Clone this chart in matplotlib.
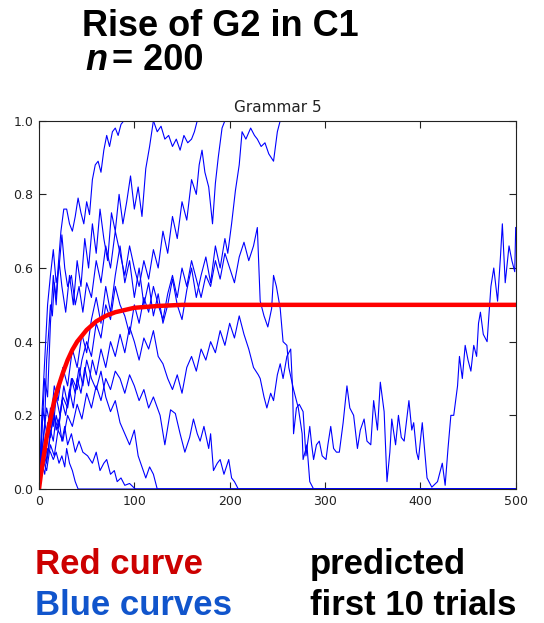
import matplotlib
matplotlib.use("Agg")
import matplotlib.pyplot as plt

# predicted curve
red_x = [0, 2, 5, 8, 12, 16, 20, 25, 30, 35, 40, 50, 60, 70, 80, 100, 125, 150, 200, 300, 400, 500]
red_y = [0, 0.04, 0.09, 0.14, 0.19, 0.24, 0.275, 0.315, 0.35, 0.378, 0.40, 0.432, 0.455, 0.47, 0.48,
         0.492, 0.497, 0.5, 0.5, 0.5, 0.5, 0.5]

# first 10 trials (approximate readings)
tA_x = [0, 2, 4, 6, 8, 10, 12, 14, 16, 18, 20, 23, 26, 29, 32, 35, 38, 41, 44, 47, 50, 53, 56, 59, 62,
        65, 68, 71, 74, 77, 80, 83, 86, 89, 92, 120, 124, 128, 132, 136, 140, 144, 148, 152, 156, 160,
        163, 166]
tA_y = [0, 0.1, 0.22, 0.18, 0.35, 0.42, 0.5, 0.47, 0.56, 0.52, 0.6, 0.7, 0.76, 0.76, 0.72, 0.70, 0.74,
        0.79, 0.75, 0.72, 0.78, 0.745, 0.84, 0.88, 0.89, 0.86, 0.92, 0.96, 0.93, 0.97, 0.98, 0.96, 0.99,
        1.0, 1.0, 1.0, 0.97, 0.985, 0.95, 0.96, 0.93, 0.95, 0.92, 0.96, 0.94, 0.95, 0.97, 1.0]

tB_x = [0, 3, 6, 9, 12, 15, 18, 21, 24, 27, 30, 34, 38, 42, 46, 50, 55, 60, 65, 70, 75, 80, 85, 90, 95,
        100, 105, 110, 115, 120, 125, 130, 135, 140, 145, 150, 155, 160, 165, 168, 171, 174, 178, 182,
        185, 188, 192, 195]
tB_y = [0, 0.2, 0.35, 0.5, 0.58, 0.65, 0.56, 0.6, 0.69, 0.6, 0.55, 0.58, 0.5, 0.55, 0.48, 0.56, 0.52,
        0.62, 0.56, 0.66, 0.6, 0.7, 0.64, 0.58, 0.66, 0.6, 0.55, 0.62, 0.57, 0.65, 0.6, 0.7, 0.64, 0.74,
        0.68, 0.78, 0.73, 0.84, 0.8, 0.88, 0.92, 0.86, 0.82, 0.72, 0.83, 0.9, 0.98, 1.0]

tC_x = [0, 4, 8, 12, 16, 20, 25, 30, 35, 40, 45, 50, 55, 60, 65, 70, 75, 80, 85, 90, 95, 100, 105, 110,
        115, 120, 125, 130, 135, 140, 145, 150, 155, 160, 165, 170, 175, 180, 185, 190, 195, 198, 202,
        206, 210, 213, 217, 222, 226, 229, 233, 237, 241, 246, 250, 253]
tC_y = [0, 0.12, 0.22, 0.17, 0.28, 0.24, 0.33, 0.28, 0.38, 0.33, 0.42, 0.37, 0.46, 0.52, 0.45, 0.55,
        0.48, 0.58, 0.66, 0.56, 0.62, 0.52, 0.6, 0.5, 0.56, 0.47, 0.53, 0.45, 0.5, 0.57, 0.5, 0.46, 0.54,
        0.6, 0.52, 0.58, 0.63, 0.56, 0.66, 0.6, 0.68, 0.64, 0.72, 0.81, 0.88, 0.97, 0.95, 0.98, 0.96,
        0.95, 0.93, 0.94, 0.91, 0.89, 0.97, 1.0]

tD_x = [0, 4, 8, 12, 16, 20, 25, 30, 35, 40, 45, 50, 55, 60, 65, 70, 75, 80, 85, 90, 95, 100, 105, 110,
        115, 120, 125, 130, 135, 140, 145, 150, 155, 160, 165, 170, 175, 180, 185, 190, 195, 200, 205,
        210, 215, 220, 225, 229, 232, 236, 240, 244, 246, 249, 253, 256, 260, 262, 267, 270, 272, 276,
        277, 281, 284, 288, 500]
tD_y = [0, 0.1, 0.07, 0.15, 0.2, 0.16, 0.25, 0.22, 0.3, 0.27, 0.35, 0.4, 0.36, 0.45, 0.41, 0.5, 0.46,
        0.55, 0.5, 0.47, 0.42, 0.5, 0.45, 0.52, 0.48, 0.55, 0.5, 0.46, 0.53, 0.58, 0.52, 0.6, 0.55, 0.62,
        0.57, 0.52, 0.58, 0.55, 0.62, 0.57, 0.64, 0.6, 0.56, 0.63, 0.67, 0.62, 0.66, 0.71, 0.51, 0.47,
        0.44, 0.49, 0.58, 0.55, 0.49, 0.40, 0.39, 0.33, 0.27, 0.24, 0.22, 0.15, 0.08, 0.12, 0.02, 0.0, 0.0]

tE_x = [0, 3, 6, 9, 12, 15, 18, 21, 24, 27, 29, 32, 35, 38, 41, 500]
tE_y = [0, 0.07, 0.04, 0.11, 0.10, 0.08, 0.1, 0.07, 0.09, 0.06, 0.11, 0.07, 0.05, 0.02, 0.0, 0.0]

tF_x = [0, 3, 6, 9, 12, 15, 18, 21, 24, 27, 30, 34, 38, 42, 46, 51, 56, 60, 64, 68, 71, 75, 79, 82, 86,
        90, 95, 101, 500]
tF_y = [0, 0.12, 0.08, 0.18, 0.14, 0.21, 0.16, 0.19, 0.13, 0.17, 0.12, 0.15, 0.1, 0.13, 0.1, 0.09,
        0.07, 0.1, 0.05, 0.07, 0.08, 0.04, 0.05, 0.02, 0.03, 0.01, 0.015, 0.0, 0.0]

tG_x = [0, 3, 6, 9, 12, 15, 18, 22, 26, 30, 34, 38, 42, 46, 50, 55, 60, 65, 70, 75, 80, 85, 90, 95, 100,
        104, 108, 112, 116, 120, 124, 500]
tG_y = [0, 0.1, 0.18, 0.14, 0.22, 0.17, 0.25, 0.2, 0.28, 0.23, 0.3, 0.26, 0.33, 0.28, 0.35, 0.3, 0.27,
        0.32, 0.25, 0.21, 0.24, 0.18, 0.15, 0.12, 0.16, 0.09, 0.06, 0.03, 0.06, 0.04, 0.0, 0.0]

tH_x = [0, 4, 8, 12, 16, 20, 25, 30, 35, 40, 45, 50, 55, 60, 65, 70, 75, 80, 85, 90, 95, 100, 105, 110,
        115, 120, 127, 132, 138, 143, 148, 153, 158, 162, 166, 169, 173, 178, 180, 183, 187, 190, 194,
        199, 202, 205, 209, 500]
tH_y = [0, 0.08, 0.05, 0.12, 0.09, 0.16, 0.13, 0.2, 0.17, 0.23, 0.19, 0.26, 0.22, 0.28, 0.24, 0.3,
        0.27, 0.32, 0.3, 0.26, 0.31, 0.28, 0.24, 0.27, 0.22, 0.25, 0.20, 0.12, 0.215, 0.205, 0.15, 0.10,
        0.14, 0.19, 0.15, 0.13, 0.17, 0.11, 0.15, 0.05, 0.07, 0.08, 0.04, 0.08, 0.03, 0.02, 0.0, 0.0]

tJ_x = [0, 3, 6, 9, 12, 15, 18, 21, 24, 28, 32, 36, 40, 44, 48, 52, 56, 60, 64, 68, 72, 76, 80, 84, 88,
        92, 96, 100, 104, 108, 112, 116, 120]
tJ_y = [0, 0.15, 0.3, 0.25, 0.45, 0.58, 0.5, 0.62, 0.55, 0.48, 0.58, 0.5, 0.62, 0.55, 0.68, 0.6, 0.72,
        0.64, 0.76, 0.68, 0.62, 0.75, 0.7, 0.8, 0.72, 0.78, 0.85, 0.76, 0.82, 0.74, 0.87, 0.93, 1.0]

tL_x = [0, 3, 6, 9, 12, 15, 18, 21, 24, 28, 32, 36, 40, 44, 48, 52, 56, 60, 65, 70, 75, 80, 85, 90, 95,
        100, 105, 110, 115, 120, 125, 130, 135, 140, 145, 150, 155, 160, 165, 170, 175, 180, 185, 190,
        195, 200, 205, 210, 215, 220, 225, 230, 232, 236, 239, 243, 246, 250, 253, 256, 260, 264, 266,
        267, 270, 273, 277, 280, 282, 284, 286, 288, 291, 294, 297, 301, 303, 306, 309, 312, 315, 319,
        323, 326, 330, 334, 337, 341, 344, 348, 351, 355, 358, 362, 365, 368, 370, 374, 377, 380, 383,
        388, 391, 393, 396, 398, 402, 407, 412, 418, 423, 426, 429, 432, 435, 439, 441, 444, 447, 450,
        453, 456, 459, 461, 463, 466, 470, 474, 477, 481, 484, 486, 489, 493, 496, 499, 500]
tL_y = [0, 0.06, 0.12, 0.09, 0.16, 0.13, 0.2, 0.17, 0.24, 0.2, 0.27, 0.22, 0.3, 0.26, 0.33, 0.28, 0.35,
        0.31, 0.38, 0.33, 0.4, 0.36, 0.42, 0.37, 0.44, 0.40, 0.35, 0.41, 0.38, 0.43, 0.36, 0.34, 0.30,
        0.27, 0.31, 0.26, 0.33, 0.36, 0.32, 0.38, 0.35, 0.40, 0.37, 0.43, 0.39, 0.45, 0.41, 0.47, 0.42,
        0.38, 0.33, 0.31, 0.30, 0.25, 0.22, 0.26, 0.24, 0.31, 0.34, 0.30, 0.36, 0.38, 0.27, 0.15, 0.22,
        0.23, 0.21, 0.09, 0.13, 0.17, 0.12, 0.08, 0.12, 0.13, 0.09, 0.08, 0.12, 0.17, 0.11, 0.10, 0.10,
        0.18, 0.28, 0.22, 0.20, 0.11, 0.16, 0.19, 0.13, 0.12, 0.24, 0.16, 0.29, 0.21, 0.02, 0.10, 0.19,
        0.12, 0.20, 0.14, 0.13, 0.24, 0.16, 0.18, 0.10, 0.08, 0.18, 0.03, 0.005, 0.02, 0.07, 0.01, 0.11,
        0.20, 0.20, 0.28, 0.36, 0.30, 0.39, 0.35, 0.32, 0.39, 0.36, 0.45, 0.48, 0.42, 0.40, 0.55, 0.60,
        0.51, 0.63, 0.72, 0.56, 0.66, 0.62, 0.59, 0.71]

trials = [(tA_x, tA_y), (tB_x, tB_y), (tC_x, tC_y), (tD_x, tD_y), (tE_x, tE_y),
          (tF_x, tF_y), (tG_x, tG_y), (tH_x, tH_y), (tJ_x, tJ_y), (tL_x, tL_y)]

x_ticks = [0, 100, 200, 300, 400, 500]
y_ticks = [0.0, 0.2, 0.4, 0.6, 0.8, 1.0]

W, H = 544, 623
fig = plt.figure(figsize=(W / 100, H / 100), dpi=100)
ax = fig.add_axes([39 / W, 1 - 489 / H, 476.7 / W, 368.3 / H])

for xs, ys in trials:
    ax.plot(xs, ys, color='#0000ff', lw=0.8)
ax.plot(red_x, red_y, color='#ff0000', lw=3.2)

ax.set_xlim(0, 500)
ax.set_ylim(0, 1)
ax.set_xticks(x_ticks)
ax.set_yticks(y_ticks)
ax.set_yticklabels(['%.1f' % v for v in y_ticks])
ax.tick_params(direction='in', top=True, right=True, length=5, width=0.8,
               labelsize=9, colors='#222222', pad=4)
for s in ax.spines.values():
    s.set_color('#222222')
ax.set_title('Grammar 5', fontsize=11, color='#222222', pad=6)

big = dict(family='Liberation Sans', weight='bold', fontsize=26, va='baseline')
fig.text(82 / W, 1 - 36 / H, 'Rise of G2 in C1', color='black', **big)
fig.text(85 / W, 1 - 70 / H, 'n', color='black', style='italic', **big)
fig.text(112 / W, 1 - 70 / H, '= 200', color='black', **big)

big['fontsize'] = 25
fig.text(35 / W, 1 - 574 / H, 'Red curve', color='#cc0000', **big)
fig.text(310 / W, 1 - 574 / H, 'predicted', color='black', **big)
fig.text(35 / W, 1 - 615 / H, 'Blue curves', color='#1155cc', **big)
fig.text(310 / W, 1 - 615 / H, 'first 10 trials', color='black', **big)

fig.savefig('out.png', dpi=100)
